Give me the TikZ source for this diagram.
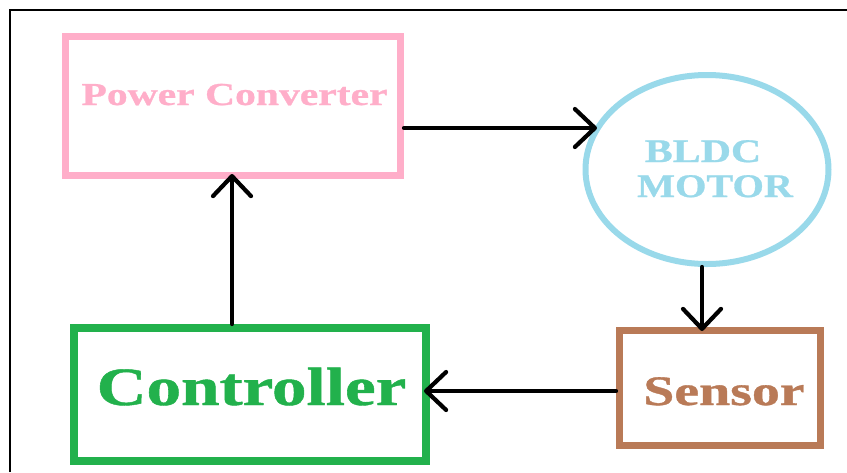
\documentclass[tikz,border=0pt]{standalone}
\usepackage{graphicx}
\usepackage{fontspec}
\setmainfont{Liberation Serif}[BoldFeatures={FakeBold=0.8}]
\usetikzlibrary{arrows.meta,shapes.geometric}
\definecolor{pcpink}{HTML}{FFAEC9}
\definecolor{mblue}{HTML}{99D9EA}
\definecolor{cgreen}{HTML}{22B14C}
\definecolor{sbrown}{HTML}{B97A57}
\tikzset{
  box/.style={draw, rectangle, inner sep=0pt, fill=none},
  lbl/.style={anchor=base, inner sep=0pt, font=\bfseries},
  arr/.style={line width=4.2pt, line cap=round,
    -{Straight Barb[length=20pt,width=38pt,line width=4.2pt,round]}},
}
\begin{document}
\begin{tikzpicture}[x=1pt,y=-1pt]
\useasboundingbox (0,0) rectangle (847,472);
% frame
\coordinate (f1) at (10,472);
\coordinate (f2) at (10,10);
\coordinate (f3) at (847,10);
\draw[line width=2pt] (f1) -- (f2) -- (f3);
% shapes
\node[box, draw=pcpink, line width=7pt, minimum width=335pt, minimum height=139pt] (pc) at (233,106) {};
\node[box, draw=cgreen, line width=8pt, minimum width=352pt, minimum height=133pt] (ctrl) at (250,394.5) {};
\node[box, draw=sbrown, line width=7pt, minimum width=201pt, minimum height=115pt] (sensor) at (720,388) {};
\node[draw=mblue, ellipse, line width=6pt, inner sep=0pt, minimum width=243pt, minimum height=189pt] (motor) at (707,169.5) {};
% texts
\node[lbl, text=pcpink, font=\bfseries\fontsize{32}{33}\selectfont] (tpc) at (234.5,105) {\scalebox{1.30}[1]{Power Converter}};
\node[lbl, text=mblue, font=\bfseries\fontsize{33}{33}\selectfont] (tbldc) at (703,162) {\scalebox{1.27}[1]{BLDC}};
\node[lbl, text=mblue, font=\bfseries\fontsize{33}{33}\selectfont] (tmotor) at (715,197) {\scalebox{1.22}[1]{MOTOR}};
\node[lbl, text=cgreen, font=\bfseries\fontsize{54}{58}\selectfont] (tctrl) at (251.5,405) {\scalebox{1.28}[1]{Controller}};
\node[lbl, text=sbrown, font=\bfseries\fontsize{42}{44}\selectfont] (tsens) at (724,405) {\scalebox{1.33}[1]{Sensor}};
% connectors
\coordinate (m1) at (597,128);
\draw[arr] (pc.east |- m1) -- (m1);
\coordinate (c1) at (232,0);
\draw[arr, shorten >=-5pt] (ctrl.north -| c1) -- (pc.south -| c1);
\coordinate (s1) at (702,0);
\draw[arr, shorten >=-4pt] (motor.south -| s1) -- (sensor.north -| s1);
\coordinate (r1) at (0,391);
\draw[arr, shorten >=-6pt] (sensor.west |- r1) -- (ctrl.east |- r1);
\end{tikzpicture}
\end{document}
